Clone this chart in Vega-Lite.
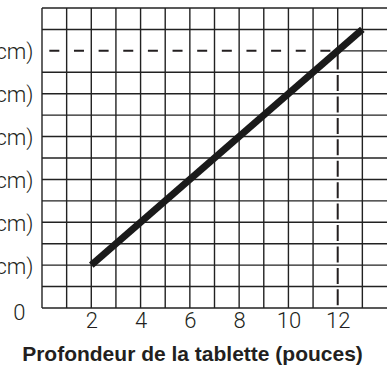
{
  "$schema": "https://vega.github.io/schema/vega-lite/v6.json",
  "width": 345,
  "height": 300,
  "autosize": {"type": "none"},
  "padding": {"left": 42, "top": 8, "right": 0, "bottom": 61},
  "config": {
    "view": {"stroke": null},
    "axis": {
      "grid": false,
      "domain": false,
      "ticks": false,
      "labelFont": "Roboto",
      "labelFontWeight": 300,
      "labelFontSize": 22,
      "labelColor": "#231f20",
      "labelOverlap": false
    }
  },
  "layer": [
    {
      "description": "Horizontal grid lines (the one at 12 is partly replaced by the dashed guide)",
      "data": {"values": [{"ligne": 0}, {"ligne": 1}, {"ligne": 2}, {"ligne": 3}, {"ligne": 4}, {"ligne": 5}, {"ligne": 6}, {"ligne": 7}, {"ligne": 8}, {"ligne": 9}, {"ligne": 10}, {"ligne": 11}, {"ligne": 13}, {"ligne": 14}]},
      "mark": {"type": "rule", "color": "#222222", "strokeWidth": 1.4},
      "encoding": {
        "y": {
          "field": "ligne", "type": "quantitative",
          "scale": {"domain": [0, 14], "nice": false, "zero": false},
          "axis": {
            "values": [0, 2, 4, 6, 8, 10, 12],
            "labelExpr": "datum.value == 0 ? '0' : datum.value + ' po (' + replace(format(datum.value * 2.54, '.1f'), '.', ',') + ' cm)'",
            "labelPadding": {"condition": {"test": "datum.value == 0", "value": 17}, "value": 9},
            "labelOffset": {"condition": {"test": "datum.value == 0", "value": 4}, "value": 1},
            "title": null
          }
        }
      }
    },
    {
      "description": "Vertical grid lines (the one at 12 is partly replaced by the dashed guide)",
      "data": {"values": [{"colonne": 0}, {"colonne": 1}, {"colonne": 2}, {"colonne": 3}, {"colonne": 4}, {"colonne": 5}, {"colonne": 6}, {"colonne": 7}, {"colonne": 8}, {"colonne": 9}, {"colonne": 10}, {"colonne": 11}, {"colonne": 13}]},
      "mark": {"type": "rule", "color": "#222222", "strokeWidth": 1.4},
      "encoding": {
        "x": {
          "field": "colonne", "type": "quantitative",
          "scale": {"domain": [0, 14], "nice": false, "zero": false},
          "axis": {
            "values": [2, 4, 6, 8, 10, 12],
            "labelPadding": 2,
            "labelBaseline": "top",
            "title": "Profondeur de la tablette (pouces)",
            "titleFont": "Liberation Sans",
            "titleFontSize": 21,
            "titleFontWeight": "bold",
            "titleColor": "#231f20",
            "titleX": 150,
            "titleAnchor": "middle",
            "titlePadding": 12
          }
        }
      }
    },
    {
      "description": "Solid parts of grid lines 12 beyond the guides",
      "data": {"values": [{"x": 12, "y": 12, "x2": 14, "y2": 12}, {"x": 12, "y": 12, "x2": 12, "y2": 14}]},
      "mark": {"type": "rule", "color": "#222222", "strokeWidth": 1.4},
      "encoding": {
        "x": {"field": "x", "type": "quantitative"},
        "x2": {"field": "x2"},
        "y": {"field": "y", "type": "quantitative"},
        "y2": {"field": "y2"}
      }
    },
    {
      "data": {"values": [{"x": 0, "y": 12, "x2": 12, "y2": 12}]},
      "mark": {"type": "rule", "color": "#231f20", "strokeWidth": 2, "strokeDash": [10, 14.64], "strokeDashOffset": 17.3},
      "encoding": {
        "x": {"field": "x", "type": "quantitative"},
        "x2": {"field": "x2"},
        "y": {"field": "y", "type": "quantitative"},
        "y2": {"field": "y2"}
      }
    },
    {
      "data": {"values": [{"x": 12, "y": 12, "y2": 0}]},
      "mark": {"type": "rule", "color": "#231f20", "strokeWidth": 2, "strokeDash": [16, 5.43], "strokeDashOffset": 18.7},
      "encoding": {
        "x": {"field": "x", "type": "quantitative"},
        "y": {"field": "y", "type": "quantitative"},
        "y2": {"field": "y2"}
      }
    },
    {
      "data": {"values": [{"profondeur": 2, "valeur": 2}, {"profondeur": 13, "valeur": 13}]},
      "mark": {"type": "line", "color": "#1a1a1a", "strokeWidth": 7, "strokeCap": "butt"},
      "encoding": {
        "x": {"field": "profondeur", "type": "quantitative"},
        "y": {"field": "valeur", "type": "quantitative"}
      }
    }
  ]
}
